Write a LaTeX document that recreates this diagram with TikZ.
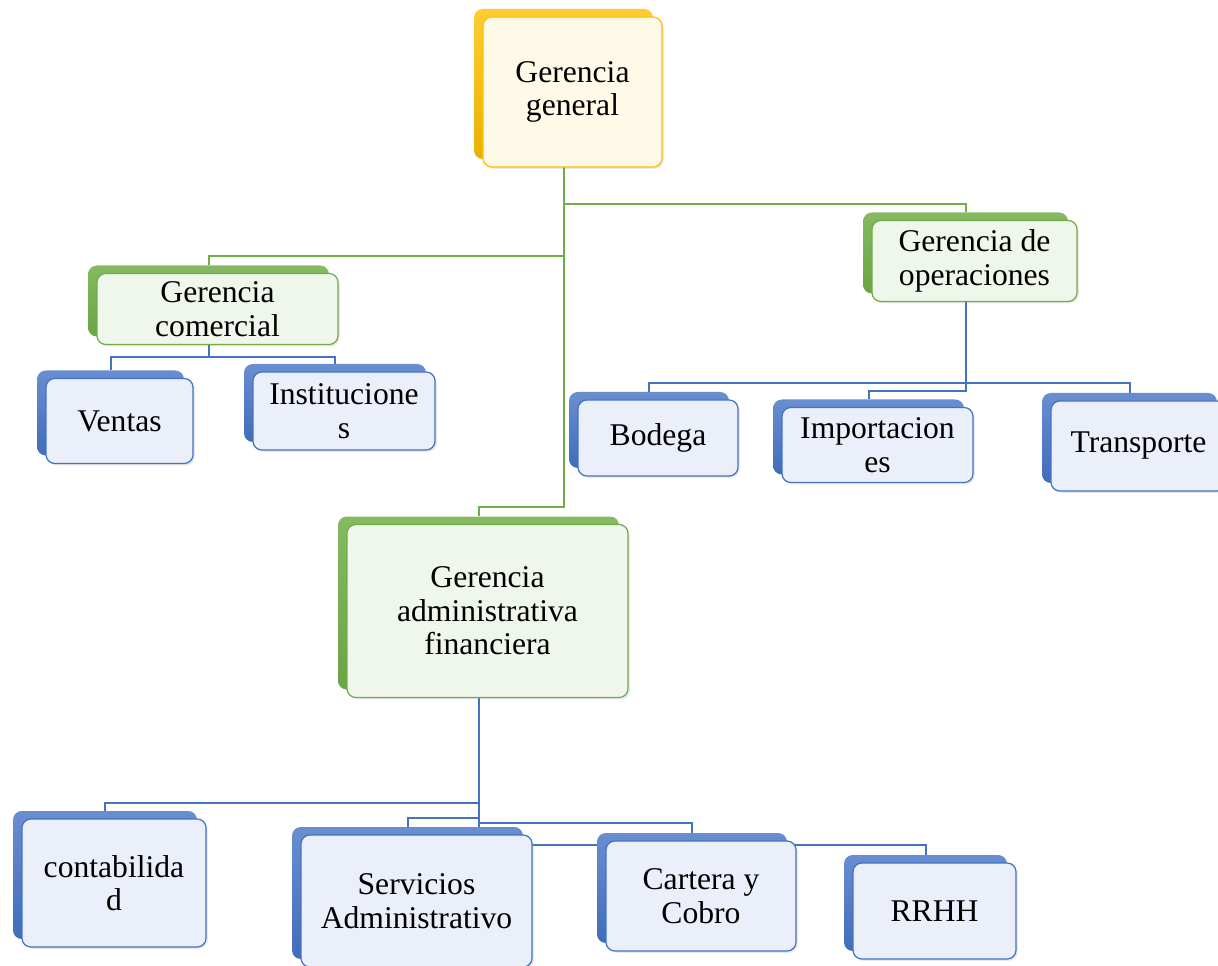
\documentclass[tikz,border=0pt]{standalone}
\usepackage{fontspec}
\setmainfont{Liberation Serif}
\usetikzlibrary{shadows}
\usepackage{xcolor}

\definecolor{oro}{HTML}{FFC000}
\definecolor{verde}{HTML}{70AD47}
\definecolor{azul}{HTML}{4472C4}

\pgfdeclarelayer{fondo}
\pgfsetlayers{fondo,main}

% caja: nombre, tipo, x, y, ancho, alto, texto
\newcommand{\caja}[7]{%
  \node[tab#2, minimum width=#5*0.02cm, minimum height=#6*0.02cm] (#1-t) at (#3-9,#4-8) {};
  \node[front#2, minimum width=#5*0.02cm, minimum height=#6*0.02cm] (#1) at (#3,#4) {#7};}

\begin{document}
\begin{tikzpicture}[x=0.02cm,y=-0.02cm,
  tab/.style={rounded corners=5pt,inner sep=0pt},
  front/.style={rounded corners=5pt,draw,line width=0.25mm,align=center,inner sep=2pt,
    font=\fontsize{18}{19}\selectfont,
    drop shadow={shadow xshift=1pt,shadow yshift=-1pt,opacity=0.18}},
  tabo/.style={tab,top color=oro!80,bottom color=oro!92!black},
  fronto/.style={front,draw=oro,fill=oro!9},
  tabv/.style={tab,top color=verde!85,bottom color=verde!95!black},
  frontv/.style={front,draw=verde,fill=verde!11},
  taba/.style={tab,top color=azul!80,bottom color=azul!95!black},
  fronta/.style={front,draw=azul,fill=azul!11},
  lineav/.style={draw=verde,line width=0.4mm},
  lineaa/.style={draw=azul,line width=0.4mm}]

  \useasboundingbox (0,0) rectangle (1218,966);

  \caja{gg}{o}{572.5}{92}{179}{150}{Gerencia\\general}
  \caja{com}{v}{217.5}{309}{241}{71}{Gerencia\\comercial}
  \caja{ope}{v}{974.5}{261}{205}{81}{Gerencia de\\operaciones}
  \caja{adm}{v}{487.5}{611}{281}{173}{Gerencia\\administrativa\\financiera}

  \caja{ven}{a}{119.5}{421}{147}{85}{Ventas}
  \caja{ins}{a}{344}{411}{182}{78}{Institucione\\s}
  \caja{bod}{a}{658}{438}{160}{76}{Bodega}
  \caja{imp}{a}{877.5}{445}{191}{75}{Importacion\\es}
  \caja{tra}{a}{1138.5}{446}{175}{90}{Transporte}

  \caja{con}{a}{114}{883}{184}{128}{contabilida\\d}
  \caja{ser}{a}{416.5}{901}{231}{132}{Servicios\\Administrativo}
  \caja{car}{a}{701}{896}{190}{110}{Cartera y\\Cobro}
  \caja{rrh}{a}{934.5}{911}{163}{96}{RRHH}

  \begin{pgfonlayer}{fondo}
    % barras
    \coordinate (b1) at (0,204);
    \coordinate (b2) at (0,256);
    \coordinate (b3) at (0,507);
    \coordinate (b4) at (0,357);
    \coordinate (b5) at (0,383);
    \coordinate (b6) at (0,391);
    \coordinate (b7) at (0,803);
    \coordinate (b8) at (0,818);
    \coordinate (b9) at (0,823);
    \coordinate (b10) at (0,845);

    \path[lineav] (gg-t.south) -- (gg-t.south |- b1) -| (ope-t.north);
    \path[lineav] (gg-t.south) -- (gg-t.south |- b2) -| (com-t.north);
    \path[lineav] (gg-t.south) -- (gg-t.south |- b3) -| (adm-t.north);

    \path[lineaa] (com-t.south) -- (com-t.south |- b4) -| (ven-t.north);
    \path[lineaa] (com-t.south) -- (com-t.south |- b4) -| (ins-t.north);

    \path[lineaa] (ope-t.south) -- (ope-t.south |- b5) -| (bod-t.north);
    \path[lineaa] (ope-t.south) -- (ope-t.south |- b5) -| (tra-t.north);
    \path[lineaa] (ope-t.south) -- (ope-t.south |- b6) -| (imp-t.north);

    \path[lineaa] (adm-t.south) -- (adm-t.south |- b7) -| (con-t.north);
    \path[lineaa] (adm-t.south) -- (adm-t.south |- b8) -| (ser-t.north);
    \path[lineaa] (adm-t.south) -- (adm-t.south |- b9) -| (car-t.north);
    \path[lineaa] (adm-t.south) -- (adm-t.south |- b10) -| (rrh-t.north);
  \end{pgfonlayer}
\end{tikzpicture}
\end{document}
